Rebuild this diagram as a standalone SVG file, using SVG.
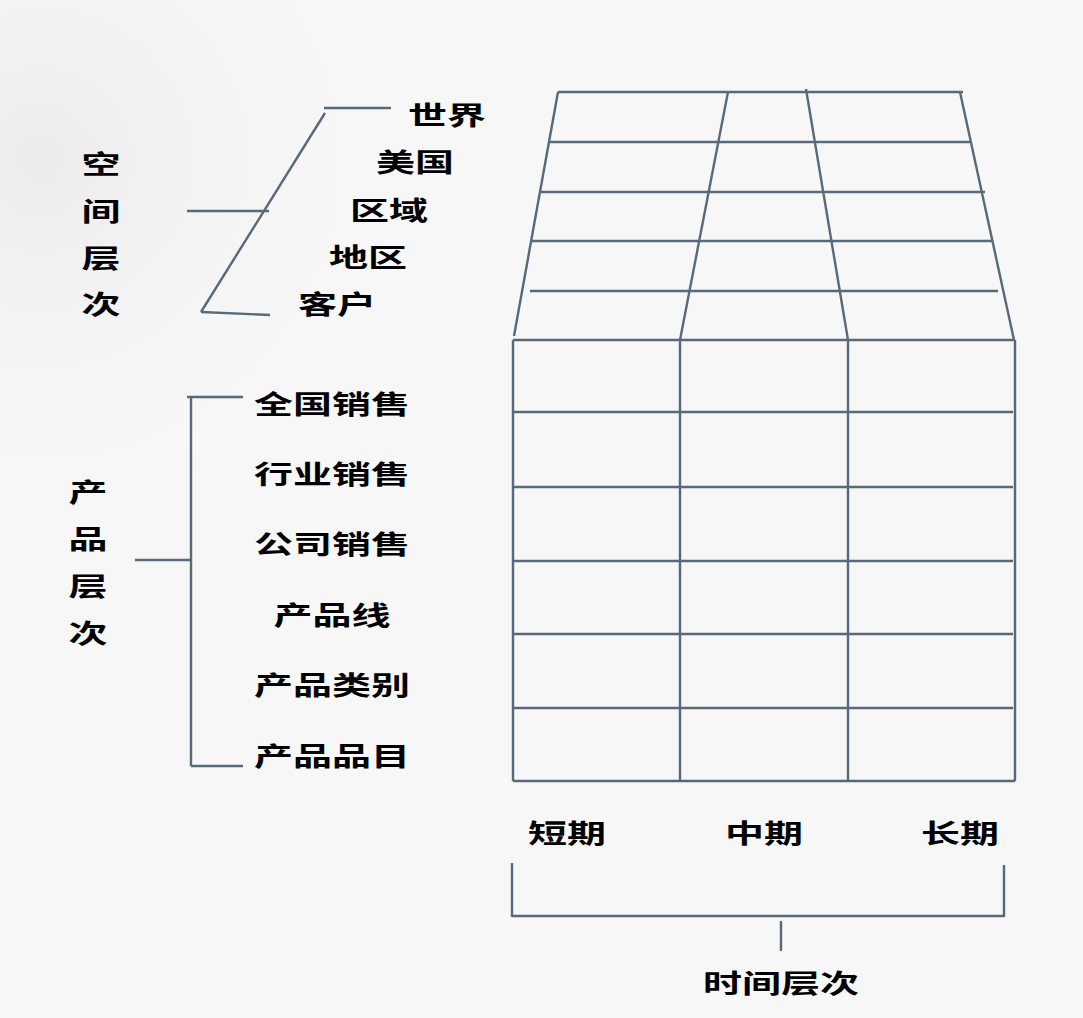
<svg xmlns="http://www.w3.org/2000/svg" width="1083" height="1018" viewBox="0 0 1083 1018">
<style>
.t{font-family:"Noto Sans CJK SC","Noto Sans CJK JP",sans-serif;font-weight:700;font-size:26px;fill:#000;text-anchor:middle}
.l{stroke:#5a6979;stroke-width:2.4;fill:none;stroke-linecap:butt}
</style>
<defs>
<radialGradient id="mist" cx="40" cy="160" r="380" gradientUnits="userSpaceOnUse">
<stop offset="0" stop-color="#ebebeb"/>
<stop offset="1" stop-color="#f7f7f7" stop-opacity="0"/>
</radialGradient>
</defs>
<rect width="1083" height="1018" fill="#f7f7f7"/>
<rect width="1083" height="1018" fill="url(#mist)"/>

<g id="grid-top" class="l">
<line x1="558" y1="92" x2="963" y2="92"/>
<line x1="550" y1="142" x2="970" y2="142"/>
<line x1="541" y1="192" x2="985" y2="192"/>
<line x1="532" y1="241" x2="992" y2="241"/>
<line x1="530" y1="291" x2="998" y2="291"/>
<line x1="558" y1="92" x2="514" y2="336"/>
<line x1="728" y1="92" x2="680" y2="340"/>
<line x1="806" y1="89" x2="848" y2="340"/>
<line x1="960" y1="92" x2="1014" y2="340"/>
</g>
<g id="grid-main" class="l">
<line x1="513" y1="340" x2="1015" y2="340"/>
<line x1="514" y1="412" x2="1013" y2="412"/>
<line x1="514" y1="487" x2="1013" y2="487"/>
<line x1="514" y1="561" x2="1013" y2="561"/>
<line x1="514" y1="634" x2="1013" y2="634"/>
<line x1="514" y1="708" x2="1013" y2="708"/>
<line x1="513" y1="781" x2="1015" y2="781"/>
<line x1="513" y1="340" x2="513" y2="781"/>
<line x1="680" y1="340" x2="680" y2="781"/>
<line x1="848" y1="340" x2="848" y2="781"/>
<line x1="1015" y1="340" x2="1015" y2="781"/>
</g>

<g id="connectors" class="l">
<line x1="324" y1="108" x2="391" y2="108"/>
<line x1="325" y1="113" x2="201" y2="312"/>
<line x1="201" y1="312" x2="270" y2="315"/>
<line x1="187" y1="211" x2="269" y2="211"/>
<line x1="191" y1="397" x2="191" y2="766"/>
<line x1="187" y1="397" x2="243" y2="397"/>
<line x1="191" y1="766" x2="243" y2="766"/>
<line x1="135" y1="560" x2="191" y2="560"/>
<line x1="512" y1="863" x2="512" y2="917"/>
<line x1="1004" y1="865" x2="1004" y2="917"/>
<line x1="512" y1="916" x2="1004" y2="916"/>
<line x1="781" y1="921" x2="781" y2="951"/>
</g>

<g id="space-label">
<text class="t" transform="translate(101,174) scale(1.5,1)">空</text>
<text class="t" transform="translate(101,221) scale(1.5,1)">间</text>
<text class="t" transform="translate(101,268) scale(1.5,1)">层</text>
<text class="t" transform="translate(101,314) scale(1.5,1)">次</text>
</g>
<g id="space-items">
<text class="t" transform="translate(447,125) scale(1.5,1)">世界</text>
<text class="t" transform="translate(415,172) scale(1.5,1)">美国</text>
<text class="t" transform="translate(389,220) scale(1.5,1)">区域</text>
<text class="t" transform="translate(368,267) scale(1.5,1)">地区</text>
<text class="t" transform="translate(337,314) scale(1.5,1)">客户</text>
</g>
<g id="product-label">
<text class="t" transform="translate(88,502) scale(1.5,1)">产</text>
<text class="t" transform="translate(88,549) scale(1.5,1)">品</text>
<text class="t" transform="translate(88,596) scale(1.5,1)">层</text>
<text class="t" transform="translate(88,643) scale(1.5,1)">次</text>
</g>
<g id="product-items">
<text class="t" transform="translate(332,414) scale(1.5,1)">全国销售</text>
<text class="t" transform="translate(332,484) scale(1.5,1)">行业销售</text>
<text class="t" transform="translate(332,554) scale(1.5,1)">公司销售</text>
<text class="t" transform="translate(332,625) scale(1.5,1)">产品线</text>
<text class="t" transform="translate(332,695) scale(1.5,1)">产品类别</text>
<text class="t" transform="translate(332,766) scale(1.5,1)">产品品目</text>
</g>
<g id="time-items">
<text class="t" transform="translate(567,843) scale(1.5,1)">短期</text>
<text class="t" transform="translate(764,843) scale(1.5,1)">中期</text>
<text class="t" transform="translate(960,843) scale(1.5,1)">长期</text>
</g>
<g id="time-label">
<text class="t" transform="translate(781,993) scale(1.5,1)">时间层次</text>
</g>
</svg>
